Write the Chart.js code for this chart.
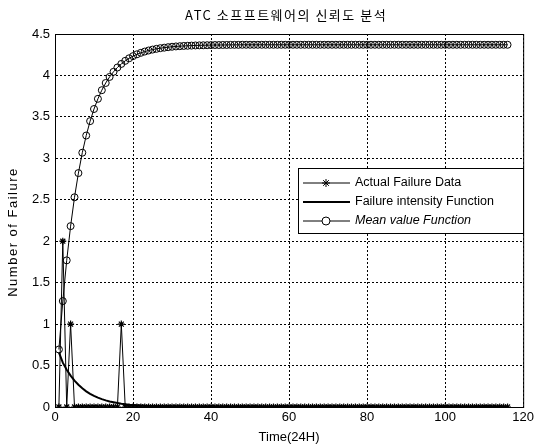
<!DOCTYPE html>
<html>
<head>
<meta charset="utf-8">
<script src="https://cdn.jsdelivr.net/npm/chart.js@4"></script>
<style>
  html, body { margin: 0; background: #fff; }
</style>
</head>
<body>
<canvas id="c" width="537" height="448"></canvas>
<script>
  /* ── data (t = 1 .. 116, unit: 24H) ── */
  const TIME_COUNT = 116;
  const timeSteps = Array.from({ length: TIME_COUNT }, (_, i) => i + 1);

  // 실제 고장 데이터 (일별 고장 건수)
  const actualFailure = [
    0, 2, 0, 1, 0, 0, 0, 0, 0, 0,   0, 0, 0, 0, 0, 0, 1, 0, 0, 0,
    0, 0, 0, 0, 0, 0, 0, 0, 0, 0,   0, 0, 0, 0, 0, 0, 0, 0, 0, 0,
    0, 0, 0, 0, 0, 0, 0, 0, 0, 0,   0, 0, 0, 0, 0, 0, 0, 0, 0, 0,
    0, 0, 0, 0, 0, 0, 0, 0, 0, 0,   0, 0, 0, 0, 0, 0, 0, 0, 0, 0,
    0, 0, 0, 0, 0, 0, 0, 0, 0, 0,   0, 0, 0, 0, 0, 0, 0, 0, 0, 0,
    0, 0, 0, 0, 0, 0, 0, 0, 0, 0,   0, 0, 0, 0, 0, 0,
  ];

  // 고장 강도 함수
  const failureIntensity = [
    0.660, 0.535, 0.450, 0.378, 0.318, 0.268, 0.225, 0.189, 0.159, 0.134,
    0.113, 0.095, 0.080, 0.067, 0.057, 0.048, 0.040, 0.034, 0.028, 0.024,
    0.020, 0.017, 0.014, 0.012, 0.010, 0.008, 0.007, 0.006, 0.005, 0.004,
    0.004, 0.003, 0.003, 0.002, 0.002, 0.002, 0.001, 0.001, 0.001, 0.001,
    0.001, 0.001, 0.001, 0.001, 0.001, 0, 0, 0, 0, 0,
    0, 0, 0, 0, 0, 0, 0, 0, 0, 0,   0, 0, 0, 0, 0, 0, 0, 0, 0, 0,
    0, 0, 0, 0, 0, 0, 0, 0, 0, 0,   0, 0, 0, 0, 0, 0, 0, 0, 0, 0,
    0, 0, 0, 0, 0, 0, 0, 0, 0, 0,   0, 0, 0, 0, 0, 0, 0, 0, 0, 0,
    0, 0, 0, 0, 0, 0,
  ];

  // 평균값 함수 (누적 고장 기대값)
  const meanValue = [
    0.694, 1.278, 1.769, 2.182, 2.530, 2.822, 3.068, 3.275, 3.449, 3.595,
    3.718, 3.822, 3.909, 3.982, 4.044, 4.096, 4.139, 4.176, 4.207, 4.233,
    4.255, 4.273, 4.288, 4.301, 4.312, 4.321, 4.329, 4.335, 4.341, 4.346,
    4.350, 4.353, 4.356, 4.358, 4.360, 4.362, 4.363, 4.364, 4.365, 4.366,
    4.367, 4.367, 4.368, 4.368, 4.369, 4.369, 4.369, 4.370, 4.370, 4.370,
    4.370, 4.370, 4.370, 4.370, 4.370, 4.370, 4.370, 4.370, 4.370, 4.370,
    4.370, 4.370, 4.370, 4.370, 4.370, 4.370, 4.370, 4.370, 4.370, 4.370,
    4.370, 4.370, 4.370, 4.370, 4.370, 4.370, 4.370, 4.370, 4.370, 4.370,
    4.370, 4.370, 4.370, 4.370, 4.370, 4.370, 4.370, 4.370, 4.370, 4.370,
    4.370, 4.370, 4.370, 4.370, 4.370, 4.370, 4.370, 4.370, 4.370, 4.370,
    4.370, 4.370, 4.370, 4.370, 4.370, 4.370, 4.370, 4.370, 4.370, 4.370,
    4.370, 4.370, 4.370, 4.370, 4.370, 4.370,
  ];

  const xTicks = [0, 20, 40, 60, 80, 100, 120];
  const yTicks = [0, 0.5, 1, 1.5, 2, 2.5, 3, 3.5, 4, 4.5];

  const TITLE   = 'ATC 소프프트웨어의 신뢰도 분석';
  const Y_LABEL = 'Number of Failure';
  const LABELS  = ['Actual Failure Data', 'Failure intensity Function', 'Mean value Function'];
  const FONT    = '"Liberation Sans", Arial, sans-serif';

  const toXY = arr => arr.map((v, i) => ({ x: timeSteps[i], y: v }));

  /* ── title / y label / frame / legend (MATLAB look) ── */
  const matlabDeco = {
    id: 'matlabDeco',
    afterDatasetsDraw(chart) {
      const { ctx, chartArea: a } = chart;
      ctx.save();
      // 박스 테두리
      ctx.strokeStyle = '#000';
      ctx.lineWidth = 1;
      ctx.setLineDash([]);
      ctx.strokeRect(a.left + 0.5, a.top + 0.5, a.right - a.left, a.bottom - a.top);

      // 제목
      ctx.fillStyle = '#000';
      ctx.font = '13px "Noto Sans CJK KR", ' + FONT;
      ctx.letterSpacing = '1.5px';
      ctx.textAlign = 'center';
      ctx.textBaseline = 'middle';
      ctx.fillText(TITLE, (a.left + a.right) / 2 - 3, 15);

      // y축 라벨 (회전)
      ctx.save();
      ctx.translate(13, 232);
      ctx.rotate(-Math.PI / 2);
      ctx.font = '13px ' + FONT;
      ctx.letterSpacing = '1.5px';
      ctx.fillText(Y_LABEL, 0, 0);
      ctx.restore();
      ctx.letterSpacing = '0px';

      // 범례
      const bx = 298, by = 168, bw = 225, bh = 65;
      ctx.fillStyle = '#fff';
      ctx.fillRect(bx, by, bw, bh);
      ctx.strokeRect(bx + 0.5, by + 0.5, bw, bh);
      ctx.textAlign = 'left';
      const ds = chart.data.datasets;
      LABELS.forEach((lbl, i) => {
        const y = by + 15 + i * 19;
        const d = ds[i];
        ctx.strokeStyle = '#000';
        ctx.lineWidth = d.borderWidth;
        ctx.beginPath();
        ctx.moveTo(bx + 5, y);
        ctx.lineTo(bx + 52, y);
        ctx.stroke();
        if (d.pointRadius > 0) {
          ctx.fillStyle = '#fff';
          ctx.lineWidth = 1;
          Chart.helpers.drawPoint(ctx, {
            pointStyle: d.pointStyle, radius: d.pointRadius + 0.5, rotation: 0,
            borderWidth: 1,
          }, bx + 28, y);
        }
        ctx.fillStyle = '#000';
        ctx.font = (i === 2 ? 'italic ' : '') + '12.5px ' + FONT;
        ctx.fillText(lbl, bx + 57, y);
      });
      ctx.restore();
    },
  };

  new Chart(document.getElementById('c'), {
    type: 'line',
    data: {
      datasets: [
        {
          label: LABELS[0], data: toXY(actualFailure),
          borderColor: '#000', borderWidth: 1, pointStyle: 'star',
          pointRadius: 3.5, pointBorderColor: '#000', pointBorderWidth: 1.2,
          backgroundColor: 'transparent', tension: 0,
        },
        {
          label: LABELS[1], data: toXY(failureIntensity),
          borderColor: '#000', borderWidth: 2, pointRadius: 0,
          backgroundColor: 'transparent', tension: 0,
        },
        {
          label: LABELS[2], data: toXY(meanValue),
          borderColor: '#000', borderWidth: 1, pointStyle: 'circle',
          pointRadius: 3.5, pointBorderColor: '#000', pointBorderWidth: 1,
          pointBackgroundColor: 'transparent', backgroundColor: 'transparent', tension: 0,
        },
      ],
    },
    options: {
      responsive: false,
      animation: false,
      devicePixelRatio: 1,
      layout: { padding: { top: 34, right: 10, left: 0, bottom: 0 } },
      plugins: { legend: { display: false }, tooltip: { enabled: false } },
      scales: {
        x: {
          type: 'linear', min: 0, max: 120,
          afterBuildTicks: s => { s.ticks = xTicks.map(v => ({ value: v })); },
          afterFit: s => { s.height = 41; },
          ticks: { color: '#000', font: { family: FONT, size: 13 }, padding: 3, maxRotation: 0,
                   callback: v => String(v) },
          grid: { color: '#000', lineWidth: 1, drawTicks: false },
          border: { display: true, color: '#000', dash: [2, 2] },
          title: { display: true, text: 'Time(24H)', color: '#000', font: { family: FONT, size: 13 }, padding: { top: 2, bottom: 3 } },
        },
        y: {
          type: 'linear', min: 0, max: 4.5,
          afterBuildTicks: s => { s.ticks = yTicks.map(v => ({ value: v })); },
          afterFit: s => { s.width = 55; },
          ticks: { color: '#000', font: { family: FONT, size: 13 }, padding: 5,
                   callback: v => String(v) },
          grid: { color: '#000', lineWidth: 1, drawTicks: false },
          border: { display: true, color: '#000', dash: [2, 2] },
        },
      },
    },
    plugins: [matlabDeco],
  });
</script>
</body>
</html>
